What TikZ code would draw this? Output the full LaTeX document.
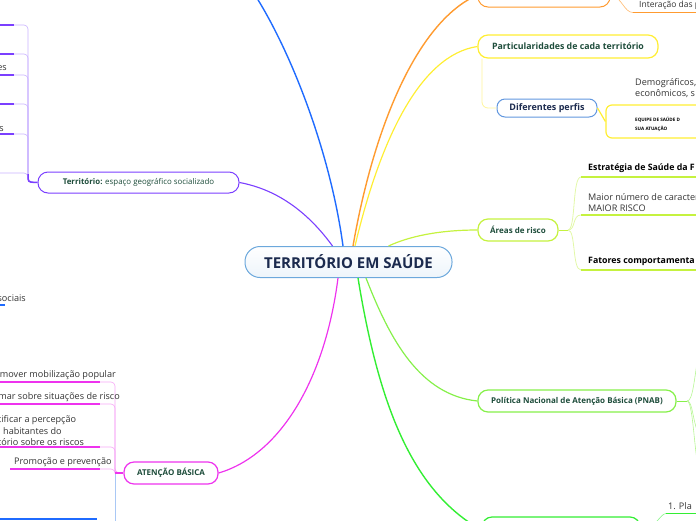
\documentclass[tikz,border=0pt]{standalone}
\usepackage{fontspec}
\setmainfont{Open Sans}
\definecolor{cblue}{HTML}{1F6BFF}
\definecolor{cbluel}{HTML}{A9C8F5}
\definecolor{cpurple}{HTML}{7B3FFF}
\definecolor{cpurplel}{HTML}{C9B2FF}
\definecolor{corange}{HTML}{FF9B30}
\definecolor{cyellow}{HTML}{FFEE33}
\definecolor{cyellowl}{HTML}{FFF59A}
\definecolor{clime}{HTML}{C5F23F}
\definecolor{climel}{HTML}{E2F8A8}
\definecolor{cpnab}{HTML}{86F04A}
\definecolor{cgreen}{HTML}{33EE33}
\definecolor{cmag}{HTML}{EE33EE}
\definecolor{cmagl}{HTML}{F6A8F6}
\definecolor{cnode}{HTML}{1E4D3B}
\definecolor{cnavy}{HTML}{1B2A4E}
\definecolor{ctext}{HTML}{333333}
\definecolor{cmain}{HTML}{6CA8DC}
\tikzset{
  topic/.style={draw, rounded corners=10pt, fill=white, line width=1pt, text=cnode, inner sep=0pt},
  sub/.style={text=ctext, font=\fontsize{9.1}{11.5}\selectfont, inner sep=0pt, anchor=west, align=left},
  branch/.style={line width=1.4pt},
  twig/.style={line width=0.6pt},
  uline/.style={line width=1.5pt}
}
\begin{document}
\begin{tikzpicture}[x=1pt,y=-1pt]
\useasboundingbox (0,0) rectangle (696,520);
\clip (0,0) rectangle (696,520);

% central node
\node[draw=cmain, line width=1pt, rounded corners=15pt, top color=white, bottom color=cmain!12,
      minimum width=207pt, minimum height=31pt, inner sep=0pt, text=cnavy,
      font=\bfseries\fontsize{15}{17}\selectfont] (root) at (348.5,262) {TERRITÓRIO EM SAÚDE};

% main topics
\node[topic, draw=cpurple, minimum width=201pt, minimum height=21pt, font=\fontsize{7.9}{10}\selectfont]
  (terr) at (138.5,182.5) {\textbf{Território:} espaço geográfico socializado};
\node[topic, draw=corange, minimum width=132pt, minimum height=24pt] (orn) at (544,-5) {};
\node[topic, draw=cyellow, line width=1.2pt, minimum width=180pt, minimum height=23pt, font=\bfseries\fontsize{8.8}{10}\selectfont]
  (part) at (568,46.5) {Particularidades de cada território};
\node[topic, draw=cmain!90!blue, rounded corners=8pt, minimum width=100pt, minimum height=18pt, text=cnavy, font=\bfseries\fontsize{9}{10}\selectfont]
  (perf) at (547,108) {Diferentes perfis};
\node[topic, draw=clime, line width=1.2pt, minimum width=80pt, minimum height=22pt, font=\bfseries\fontsize{8}{9}\selectfont]
  (areas) at (518,230) {Áreas de risco};
\node[topic, draw=cpnab, line width=1.2pt, minimum width=198pt, minimum height=22pt, font=\bfseries\fontsize{8}{9}\selectfont]
  (pnab) at (577,401) {Política Nacional de Atenção Básica (PNAB)};
\node[topic, draw=cmag, line width=1.2pt, minimum width=94pt, minimum height=22pt, font=\bfseries\fontsize{8}{9}\selectfont]
  (atb) at (171,473) {ATENÇÃO BÁSICA};
\node[topic, draw=cgreen, line width=1.2pt, minimum width=158pt, minimum height=26pt] (grn) at (561,530) {};
\node[draw=cyellow, line width=1.2pt, rounded corners=6pt, minimum width=104pt, minimum height=33pt, inner sep=0pt]
  (eqbox) at (658,121.5) {};

% free ends
\coordinate (blueend) at (255,-5);

% main branches
\draw[branch, cblue] ([xshift=-5.5pt]root.north) .. controls (330,150) and (290,50) .. (blueend);
\draw[branch, cpurple, line width=1.1pt] ([xshift=-16pt]root.north) .. controls (310,215) and (280,190) .. (terr.east);
\draw[branch, corange] ([xshift=4.5pt]root.north) .. controls (375,120) and (420,20) .. (orn.west);
\draw[branch, cyellow, line width=1.2pt] ([xshift=6.5pt]root.north) .. controls (380,140) and (420,55) .. (part.west);
\draw[branch, clime, line width=1.2pt] ([xshift=40pt]root.north) .. controls (410,236) and (440,230) .. (areas.west);
\draw[branch, cmag, line width=1.2pt] ([xshift=-10.5pt]root.south) .. controls (325,380) and (280,455) .. (atb.east);
\draw[branch, cgreen] ([xshift=9.5pt]root.south) .. controls (378,400) and (410,490) .. (grn.west);
\draw[branch, cpnab, line width=1.2pt] ([xshift=17.5pt]root.south) .. controls (390,340) and (420,395) .. (pnab.west);

% ---- Territorio subtree (left, purple)
\foreach \y [count=\i] in {25,54,75,104,134} {
  \coordinate (pa\i) at (14,\y);
  \coordinate (pb\i) at (-2,\y);
  \draw[twig, cpurplel, rounded corners=4pt] (terr.west) -- (28,182) |- (pa\i);
  \draw[uline, cpurple] (pa\i) -- (pb\i);
}
\coordinate (pc) at (-2,173);
\draw[twig, cpurplel, rounded corners=4pt] (terr.west) -- (28,182) |- (pc);
\draw[uline, cpurple, rounded corners=3pt] (terr.west) -- (28,182) -- (28,174);
\node[sub, anchor=east] (es) at (7,68) {es};
\node[sub, anchor=east] (s1) at (4,129) {s};

% sociais
\node[sub, anchor=east] (soc) at (26,298) {sociais};
\coordinate (soc1) at (-2,305);
\coordinate (soc2) at (5,305);
\draw[uline, cblue] (soc1) -- (soc2);

% ---- Atencao basica subtree (left, magenta)
\foreach \y [count=\i] in {382,404,447,469} {
  \coordinate (ma\i) at (100,\y);
  \coordinate (mb\i) at (-2,\y);
  \draw[twig, cmagl, rounded corners=4pt] (atb.west) -- (115,473) |- (ma\i);
}
\draw[uline, cmag] (mb1) -- (ma1);
\draw[uline, cmag] (mb2) -- (ma2);
\draw[uline, cmag] (mb3) -- (ma3);
\coordinate (mc4) at (10,469);
\draw[uline, cmag] (mc4) -- (ma4);
\draw[uline, cmag] (atb.west) -- (115,473);
\node[sub, anchor=east] (m1) at (116,375) {mover mobilização popular};
\node[sub, anchor=east] (m2) at (120,397) {mar sobre situações de risco};
\node[sub] (m3) at (-2,431) {tificar a percepção\\\hspace*{5pt}habitantes do\\tório sobre os riscos};
\node[sub] (m4) at (14,462) {Promoção e prevenção};
\coordinate (bl1) at (115,525);
\draw[twig, cbluel] (115,474) -- (bl1);
\coordinate (bl2) at (-2,519);
\coordinate (bl3) at (97,519);
\draw[uline, cblue] (bl2) -- (bl3);

% ---- orange subtree
\coordinate (or1) at (633,12.5);
\coordinate (or2) at (700,12.5);
\draw[twig, corange!70] (orn.east) .. controls (622,-3) and (624,12.5) .. (or1);
\draw[uline, corange] (or1) -- (or2);
\node[sub, font=\fontsize{8.5}{10}\selectfont] (inter) at (639,5) {Interação das p};

% ---- yellow subtree
\draw[twig, cyellowl, line width=0.8pt, rounded corners=6pt] ([xshift=-86pt]part.south) |- (perf.west);
\draw[uline, cyellow, line width=1.2pt] (perf.east) -- (eqbox.west);
\node[sub] (demo) at (635,88) {Demográficos,\\econômicos, s};
\node[sub, text=black, font=\bfseries\fontsize{4.6}{8.5}\selectfont] (eq) at (635,124.5) {EQUIPE DE SAÚDE D\\SUA ATUAÇÃO};

% ---- areas de risco subtree
\coordinate (ar0) at (568,230);
\draw[twig, clime] (areas.east) -- (ar0);
\foreach \y [count=\i] in {177,215,270} {
  \coordinate (ra\i) at (581,\y);
  \coordinate (rb\i) at (700,\y);
  \draw[twig, climel, line width=0.8pt] (ar0) .. controls (576,230) and (572,\y) .. (ra\i);
  \draw[uline, clime, line width=1.2pt] (ra\i) -- (rb\i);
}
\node[sub, font=\bfseries\fontsize{8.8}{11.5}\selectfont, text=black] (est) at (588,168) {Estratégia de Saúde da F};
\node[sub] (maior) at (588,202.5) {Maior número de caracter\\MAIOR RISCO};
\node[sub, font=\bfseries\fontsize{8.8}{11.5}\selectfont, text=black] (fat) at (588,261) {Fatores comportamenta};

% ---- PNAB subtree
\coordinate (pn0) at (687,401);
\coordinate (pn1) at (699,350);
\coordinate (pn2) at (699,435);
\coordinate (pn3) at (699,472);
\draw[twig, cpnab] (pnab.east) -- (pn0);
\draw[twig, cpnab!60] (pn0) .. controls (693,401) and (694,380) .. (pn1);
\draw[twig, cpnab!60] (pn0) .. controls (693,401) and (692,420) .. (pn2);
\draw[twig, cpnab!60] (pn0) .. controls (693,401) and (694,450) .. (pn3);

% ---- bottom green subtree
\coordinate (gr1) at (666,513.5);
\coordinate (gr2) at (700,513.5);
\draw[twig, cgreen!60] (grn.east) .. controls (655,530) and (660,513.5) .. (gr1);
\draw[uline, cgreen] (gr1) -- (gr2);
\node[sub] (pla) at (668,506) {1. Pla};
\end{tikzpicture}
\end{document}
